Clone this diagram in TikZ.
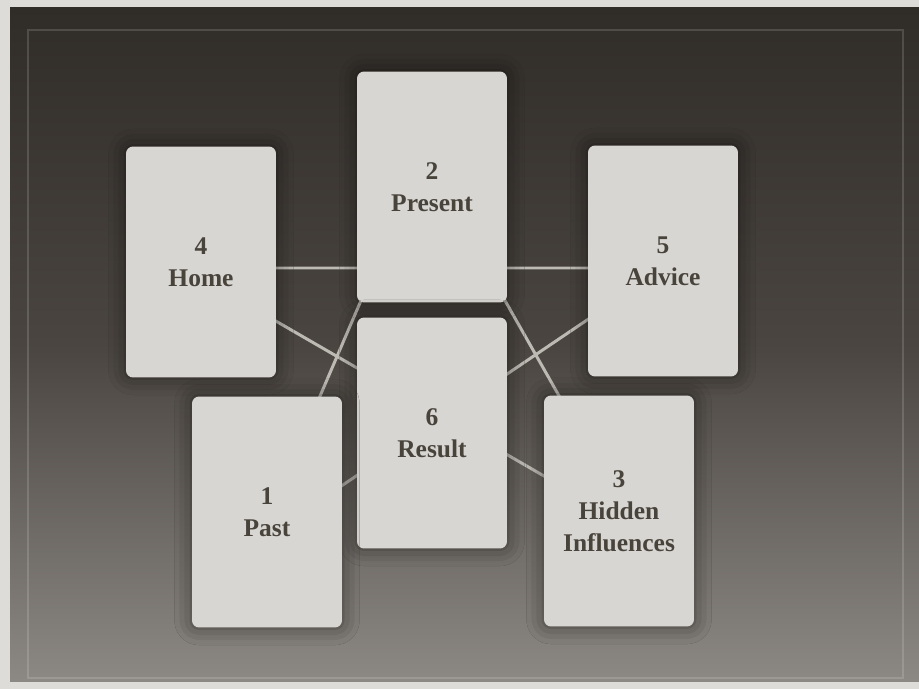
\documentclass[tikz,border=0pt]{standalone}
\usepackage{fontspec}
\setmainfont{Liberation Serif}
\definecolor{MyPaper}{HTML}{DDDCD8}
\definecolor{MyTop}{HTML}{302C28}
\definecolor{MyMid}{HTML}{4A4540}
\definecolor{MyBottom}{HTML}{8C8883}
\definecolor{MyCard}{HTML}{D7D6D2}
\definecolor{MyInk}{HTML}{48433B}
\definecolor{MyLine}{HTML}{BDBAB4}
\usetikzlibrary{shadows.blur}
\tikzset{
	card/.style={fill=MyCard, rounded corners=4pt, minimum width=3cm, minimum height=4.62cm, align=center, text=MyInk, font=\fontsize{14.5}{18.2}\selectfont\bfseries, blur shadow={shadow xshift=0pt, shadow yshift=0pt, shadow blur radius=10pt, shadow opacity=50}},
	star line/.style={MyLine, line width=1.7pt, line join=round}
}

\begin{document}
\begin{tikzpicture}[x=0.02cm, y=-0.02cm]
		\fill[MyPaper] (0,0) rectangle (919,689);
		\useasboundingbox (0,0) rectangle (919,689);
		
		\shade[top color=MyTop, bottom color=MyBottom, middle color=MyMid] (10,8) rectangle (919,681);
		\draw[white, opacity=0.15, line width=0.6pt] (28,30) rectangle (903,678);
		
		\coordinate (sPresent) at (423,156);
		\coordinate (sHome) at (184,268);
		\coordinate (sAdvice) at (664,268);
		\coordinate (sPast) at (257,543);
		\coordinate (sHidden) at (634,528);
		
		\draw[star line] (sPresent) -- (sPast) -- (sAdvice) -- (sHome) -- (sHidden) -- cycle;
		
		\node[card] (home) at (201,262) {4\\Home};
		\node[card] (present) at (432,187) {2\\Present};
		\node[card] (advice) at (663,261) {5\\Advice};
		\node[card] (result) at (432,433) {6\\Result};
		\node[card] (past) at (267,512) {1\\Past};
		\node[card] (hidden) at (619,511) {3\\Hidden\\Influences};
	\end{tikzpicture}
\end{document}
